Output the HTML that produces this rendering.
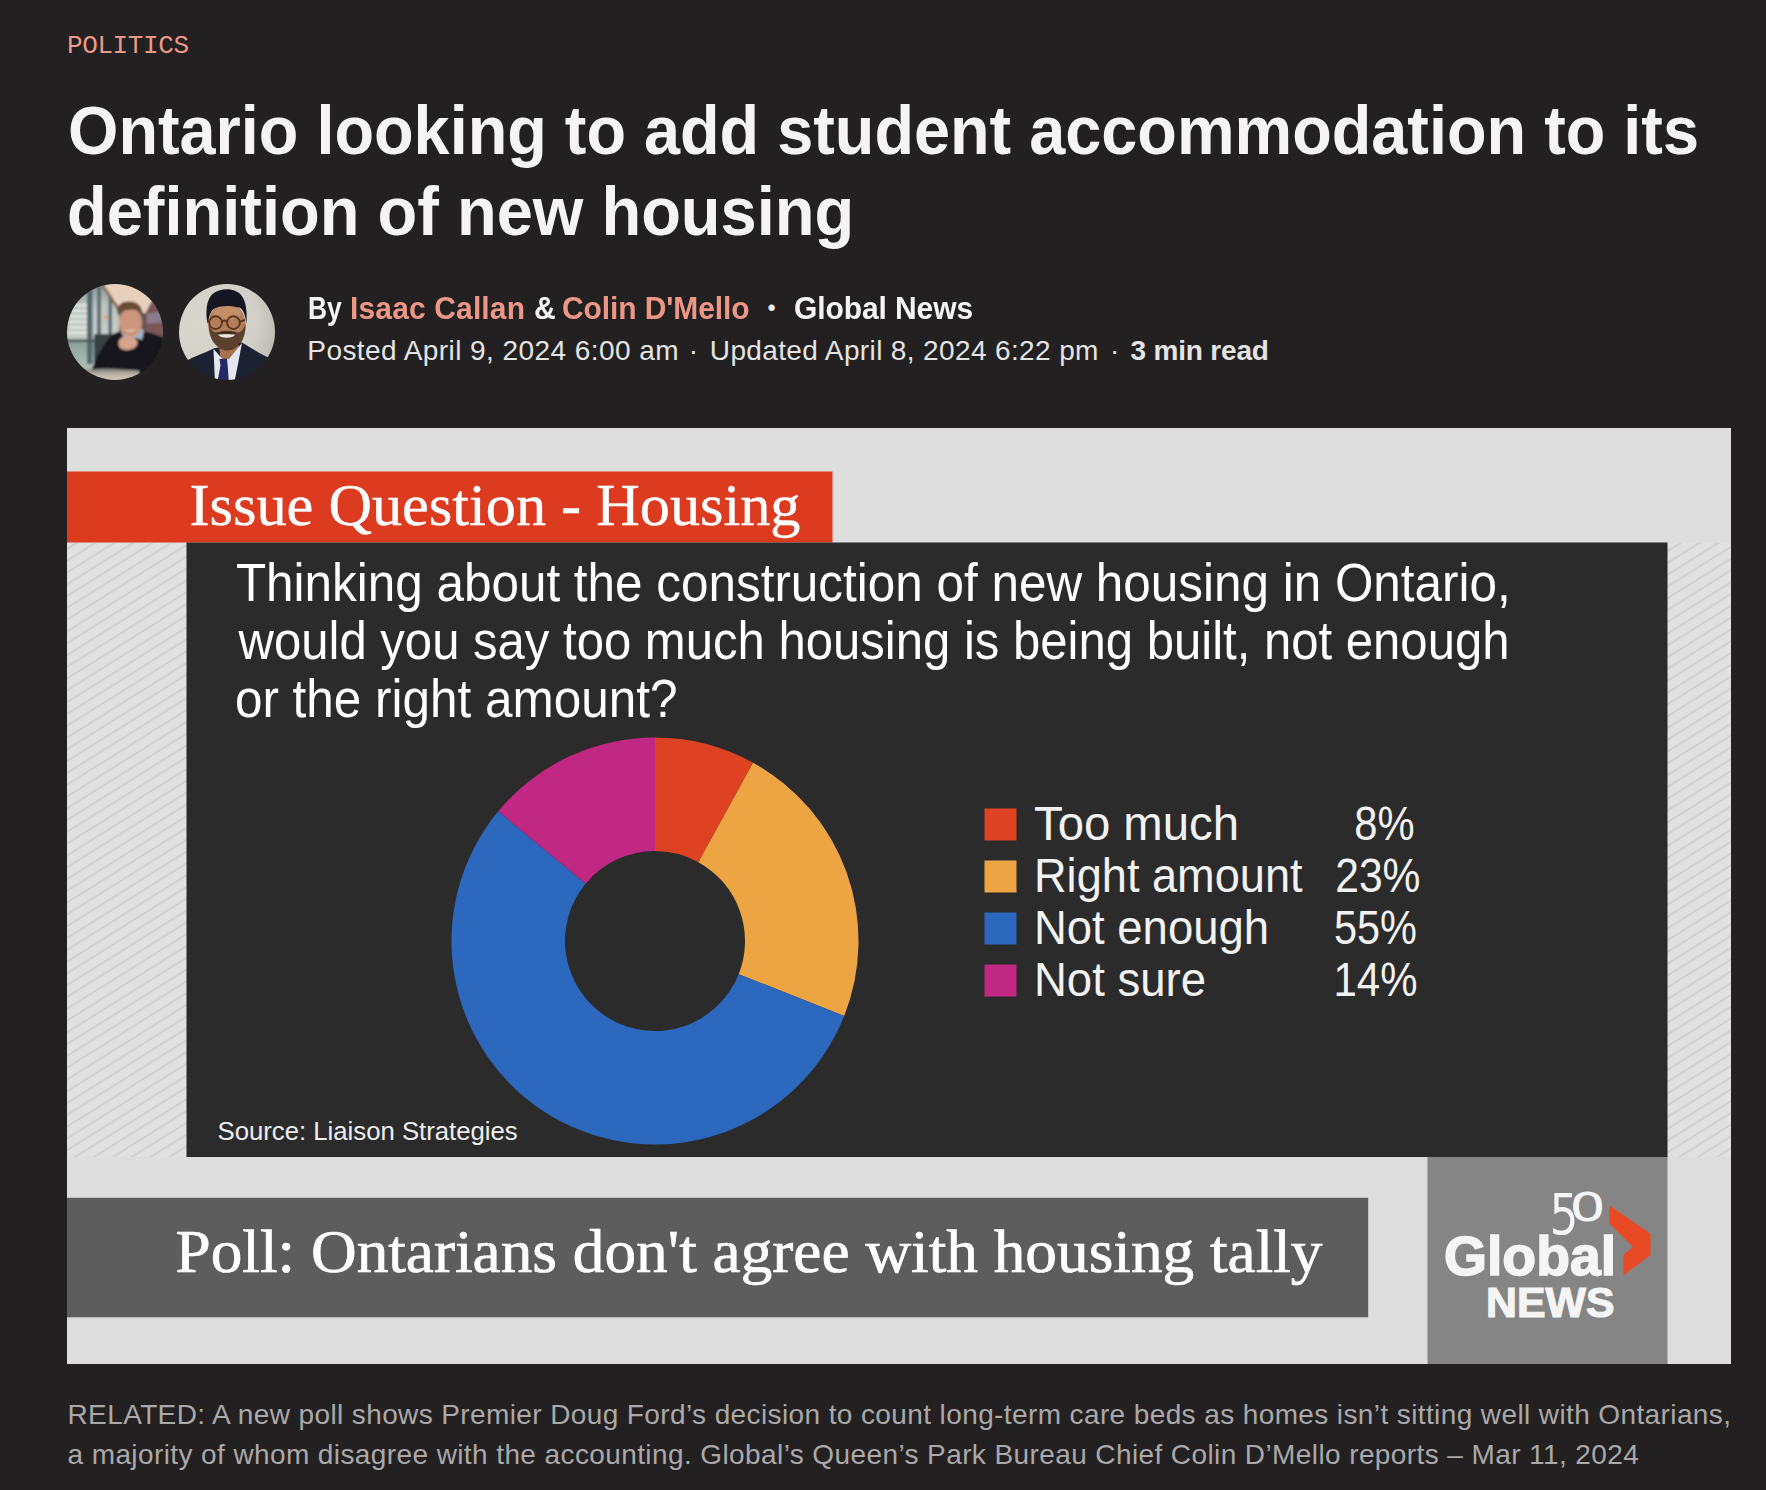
<!DOCTYPE html>
<html lang="en">
<head>
<meta charset="utf-8">
<title>Ontario looking to add student accommodation to its definition of new housing</title>
<style>
html,body{margin:0;padding:0;}
body{width:1766px;height:1490px;background:#222021;overflow:hidden;position:relative;font-family:"Liberation Sans",sans-serif;color:#f4f4f4;}
.abs{position:absolute;white-space:nowrap;line-height:1;}
#cat{left:67px;top:33px;font-family:"Liberation Mono",monospace;font-size:26px;color:#ec9886;letter-spacing:-0.4px;}
h1{margin:0;font-weight:bold;font-size:68px;}
#t1{left:68.3px;top:96px;transform:scaleX(0.953);transform-origin:0 0;}
#t2{left:67.3px;top:177px;transform:scaleX(0.956);transform-origin:0 0;}
#av1,#av2{position:absolute;top:284px;width:96px;height:96px;}
#av1{left:67px;}#av2{left:179px;}
#by{position:absolute;left:0;top:292px;font-size:32px;font-weight:bold;}
#by .abs{transform:scaleX(0.9375);transform-origin:0 0;}
#by a{color:#ec9685;text-decoration:none;}
#dt{position:absolute;left:0;top:337px;font-size:28px;color:#e4e4e4;letter-spacing:0.43px;}
#dt b{color:#e4e4e4;}
#cap1,#cap2{font-size:28px;color:#aaa8a9;letter-spacing:0.4px;}
#cap1{left:67.5px;top:1401px;letter-spacing:0.39px;}
#cap2{left:67.5px;top:1440.5px;}
figure{margin:0;}
#fig{position:absolute;left:67px;top:428px;width:1664px;height:936px;display:block;}
</style>
</head>
<body>
<article>
<div id="cat" class="abs">POLITICS</div>
<h1><span id="t1" class="abs">Ontario looking to add student accommodation to its</span><span id="t2" class="abs">definition of new housing</span></h1>
<svg id="av1" viewBox="0 0 96 96">
<defs><clipPath id="c1"><circle cx="48" cy="48" r="48"/></clipPath>
<filter id="b1" x="-10%" y="-10%" width="120%" height="120%"><feGaussianBlur stdDeviation="0.8"/></filter>
<linearGradient id="w1" x1="0" y1="0" x2="0" y2="1"><stop offset="0" stop-color="#7f8a88"/><stop offset="0.25" stop-color="#bcc5c1"/><stop offset="0.55" stop-color="#c4cbc6"/><stop offset="0.62" stop-color="#8fa39d"/><stop offset="0.8" stop-color="#a9bab3"/><stop offset="1" stop-color="#cdb9a6"/></linearGradient>
<linearGradient id="tb1" x1="0" y1="0" x2="0" y2="1"><stop offset="0" stop-color="#7d7a76"/><stop offset="0.4" stop-color="#bdb5aa"/><stop offset="1" stop-color="#ddd2c4"/></linearGradient>
</defs>
<g clip-path="url(#c1)"><g filter="url(#b1)">
<rect x="-4" y="-4" width="104" height="104" fill="#5b5656"/>
<rect x="-4" y="-4" width="56" height="104" fill="url(#w1)"/>
<g fill="#dfe4df"><rect x="2" y="20" width="18" height="2.6"/><rect x="2" y="25.5" width="18" height="2.6"/><rect x="2" y="31" width="18" height="2.6"/><rect x="2" y="36.5" width="18" height="2.6"/><rect x="2" y="42" width="18" height="2.6"/><rect x="2" y="47.5" width="18" height="2.6"/></g>
<rect x="20" y="6" width="5.5" height="74" fill="#55676b"/>
<rect x="30" y="2" width="4" height="62" fill="#5f7074"/>
<rect x="41.5" y="8" width="3.5" height="52" fill="#5d6b6e"/>
<rect x="-2" y="55.5" width="30" height="2.8" fill="#4a5557"/>
<path d="M35 -2L100 -2L100 22L85 17L78 30L64 18L51 25Z" fill="#e8d0bf"/>
<path d="M33.5 0L36.5 0L52.5 24L50 26Z" fill="#8a6a55"/>
<circle cx="38.8" cy="33.2" r="2.2" fill="#d8a878"/>
<path d="M78 30L85 17L100 22L100 56L78 50Z" fill="#7a5759"/>
<path d="M80 30L96 27L97 38L80 40Z" fill="#8d7a8c"/>
<rect x="27" y="50" width="22" height="36" rx="2" fill="#393f42"/>
<path d="M24 88C28 76 36 60 45 51C49 48 53 47 57 47L76 47C84 49 91 51 100 55L100 92L70 90L40 88Z" fill="#14171a"/>
<path d="M54 48L58 56L62 54L70 54L75 56L77 47L74 44L56 44Z" fill="#aab3c6"/>
<ellipse cx="63.5" cy="38.6" rx="11.6" ry="14.2" fill="#cc957c"/>
<path d="M50.5 31C48.5 22 54 17.5 62 17.6C70 17.5 76 22 75 31C73 27 70 25 63 26C57 25.5 53 27 50.5 31Z" fill="#6b4b34"/>
<path d="M57 44.5C60 47 66 47 69.5 44C67 48.5 60 48.5 57 44.5Z" fill="#f0e2da"/>
<path d="M51.5 60C51 55 55 52.5 60 52.5C66 52.5 70.5 55 70.5 59C70 64 64 66.5 58 66C54 65.5 52 63.5 51.5 60Z" fill="#d7a48d"/>
<path d="M16 100L15 86L40 84.5L72 86.5L72 100Z" fill="url(#tb1)"/>
</g></g></svg>
<svg id="av2" viewBox="0 0 96 96">
<defs><clipPath id="c2"><circle cx="48" cy="48" r="48"/></clipPath>
<filter id="b2" x="-10%" y="-10%" width="120%" height="120%"><feGaussianBlur stdDeviation="0.7"/></filter>
<radialGradient id="g2" cx="0.2" cy="0.4" r="0.9"><stop offset="0" stop-color="#d9d6ce"/><stop offset="0.65" stop-color="#d2cfc8"/><stop offset="1" stop-color="#b4b1aa"/></radialGradient>
</defs>
<g clip-path="url(#c2)"><g filter="url(#b2)">
<rect x="-4" y="-4" width="104" height="104" fill="url(#g2)"/>
<path d="M4 100L7 77C16 72 26 69 34.5 64.5L63 58.5C72 64 80 69 89 73.5L96 100Z" fill="#1e2033"/>
<path d="M40 62L60 60L60 76L42 78Z" fill="#a9734f"/>
<path d="M34.5 65L44 75.5L50 75L63 59L59 80L55 100L36 100Z" fill="#e3e7f1"/>
<path d="M40.5 75L48 74.5L48.6 81L50 100L38 100L41.5 81.5Z" fill="#252a63"/>
<ellipse cx="48" cy="41.5" rx="18.6" ry="23.5" fill="#b47d5a"/>
<ellipse cx="48" cy="29" rx="14" ry="7" fill="#c48e69"/>
<path d="M29.5 40C30 46 31 54 35 59C39 64 44 66.5 48.5 66.5C54 66.5 59 63 62.5 58C66 52 66.5 45 66.8 40C64 46 62 48.5 58 48.5C54 46 42 46 38.5 48.5C34 48.5 31 45 29.5 40Z" fill="#3a271e" opacity="0.72"/>
<path d="M39 50.8C43 50 52 50 56 50.8C54 54.6 41.5 54.6 39 50.8Z" fill="#efe8e2"/><path d="M37 49.6C42 47.6 53 47.6 58.5 49.6C53 48.9 42 48.9 37 49.6Z" fill="#2a1a14"/>
<path d="M28.6 40C26.4 29 27 16 33.5 10C39 5 50 4 56.5 7C64 10 69 19 67.4 40C66.4 31 64.5 26 60.5 23.5C52 21.5 40 21 34.5 25C31 28 30.2 33 28.6 40Z" fill="#191920"/>
<g fill="none" stroke="#5a3420" stroke-width="1.9"><circle cx="36.6" cy="38.6" r="6.4"/><circle cx="54.4" cy="38.6" r="6.4"/><path d="M43 37.4C45 36.2 46.5 36.2 48 37.4M30.2 37.6L28.6 36.6M60.8 37.6L66 36"/></g>
</g></g></svg>
<div id="by"><span id="by0" class="abs" style="left:308px;transform:scaleX(0.825)">By</span> <a id="by1" class="abs" style="left:350.4px;letter-spacing:0.15px">Isaac Callan</a> <span id="by2" class="abs" style="left:533.5px">&amp;</span> <a id="by3" class="abs" style="left:561.9px;letter-spacing:-0.1px">Colin D'Mello</a> <span id="by4" class="abs" style="left:767.8px;top:5px;font-size:22px;transform:none">•</span> <span id="by5" class="abs" style="left:794px;letter-spacing:-0.1px">Global News</span></div>
<div id="dt"><span id="dt0" class="abs" style="left:307.3px">Posted April 9, 2024 6:00 am</span> <span id="dt1" class="abs" style="left:688.8px">·</span> <span id="dt2" class="abs" style="left:709.8px;letter-spacing:0.37px">Updated April 8, 2024 6:22 pm</span> <span id="dt3" class="abs" style="left:1110.1px">·</span> <b id="dt4" class="abs" style="left:1130.4px;letter-spacing:-0.17px">3 min read</b></div>
<figure>
<svg id="fig" viewBox="67 428 1664 936">
<defs>
<pattern id="hatch" width="10" height="10" patternUnits="userSpaceOnUse" patternTransform="rotate(-32)">
<rect width="10" height="10" fill="#e1e0e0"/><rect y="0" width="10" height="2" fill="#d1d0d1"/>
</pattern>
</defs>
<rect x="67" y="428" width="1664" height="936" fill="#dedddd"/>
<rect x="67" y="543" width="120" height="614" fill="url(#hatch)"/>
<rect x="1667" y="543" width="64" height="614" fill="url(#hatch)"/>
<rect x="67" y="471.5" width="765.5" height="71" fill="#dd3b20"/>
<rect x="186.5" y="542.5" width="1481" height="614.5" fill="#2b2b2b"/>
<text id="iq" x="189.5" y="525" font-family="'Liberation Serif',serif" font-size="60" fill="#fff" stroke="#fff" stroke-width="0.4" textLength="611" lengthAdjust="spacingAndGlyphs">Issue Question - Housing</text>
<g font-family="'Liberation Sans',sans-serif" font-size="53" fill="#fff">
<text id="q1" x="235.9" y="600.5" textLength="1274.8" lengthAdjust="spacingAndGlyphs">Thinking about the construction of new housing in Ontario,</text>
<text id="q2" x="238.5" y="658.5" textLength="1271" lengthAdjust="spacingAndGlyphs">would you say too much housing is being built, not enough</text>
<text id="q3" x="234.9" y="717" textLength="442.5" lengthAdjust="spacingAndGlyphs">or the right amount?</text>
</g>
<path d="M655.00 737.50A203.5 203.5 0 0 1 753.04 762.67L698.36 862.13A90.0 90.0 0 0 0 655.00 851.00Z" fill="#de4223"/>
<path d="M753.04 762.67A203.5 203.5 0 0 1 844.21 1015.91L738.68 974.13A90.0 90.0 0 0 0 698.36 862.13Z" fill="#eda543"/>
<path d="M844.21 1015.91A203.5 203.5 0 1 1 498.20 811.28L585.65 883.63A90.0 90.0 0 1 0 738.68 974.13Z" fill="#2c68bd"/>
<path d="M498.20 811.28A203.5 203.5 0 0 1 655.00 737.50L655.00 851.00A90.0 90.0 0 0 0 585.65 883.63Z" fill="#c02884"/>
<g>
<rect x="984.5" y="808.5" width="32" height="32" fill="#de4223"/>
<rect x="984.5" y="860.5" width="32" height="32" fill="#eda543"/>
<rect x="984.5" y="912.5" width="32" height="32" fill="#2c68bd"/>
<rect x="984.5" y="964.5" width="32" height="32" fill="#c02884"/>
</g>
<g font-family="'Liberation Sans',sans-serif" font-size="48" fill="#f2f2f2" lengthAdjust="spacingAndGlyphs">
<text id="l1" x="1034" y="840" textLength="205" lengthAdjust="spacingAndGlyphs">Too much</text><text id="p1" x="1354.3" y="840" textLength="60.3" lengthAdjust="spacingAndGlyphs">8%</text>
<text id="l2" x="1034" y="892" textLength="268.6" lengthAdjust="spacingAndGlyphs">Right amount</text><text id="p2" x="1335.2" y="892" textLength="85.3" lengthAdjust="spacingAndGlyphs">23%</text>
<text id="l3" x="1034" y="944" textLength="235" lengthAdjust="spacingAndGlyphs">Not enough</text><text id="p3" x="1334" y="944" textLength="83" lengthAdjust="spacingAndGlyphs">55%</text>
<text id="l4" x="1034" y="996" textLength="172" lengthAdjust="spacingAndGlyphs">Not sure</text><text id="p4" x="1333.5" y="996" textLength="84" lengthAdjust="spacingAndGlyphs">14%</text>
</g>
<text id="src" x="217.5" y="1139.5" textLength="300.2" lengthAdjust="spacingAndGlyphs" font-family="'Liberation Sans',sans-serif" font-size="26" fill="#eee">Source: Liaison Strategies</text>
<rect x="67" y="1197.8" width="1301.2" height="119.5" fill="#5d5d5d"/>
<text id="poll" x="175.5" y="1271.5" font-family="'Liberation Serif',serif" font-size="62" fill="#fff" stroke="#fff" stroke-width="0.7" textLength="1147" lengthAdjust="spacingAndGlyphs">Poll: Ontarians don't agree with housing tally</text>
<rect x="1427.5" y="1157" width="240" height="207" fill="#858585"/>
<g font-family="'Liberation Sans',sans-serif" font-weight="bold" fill="#f5f5f5" stroke="#f5f5f5">
<text id="lg" x="1444" y="1274.5" font-size="56" stroke-width="1.6" textLength="172" lengthAdjust="spacingAndGlyphs">Global</text>
<text id="ln" x="1486" y="1317" font-size="43" stroke-width="1.2" textLength="128.5" lengthAdjust="spacingAndGlyphs">NEWS</text>
</g>
<g id="l50" font-family="'DejaVu Sans Light','DejaVu Sans',sans-serif" font-weight="200" fill="#f5f5f5" stroke="#f5f5f5">
<text x="1549.5" y="1233" font-size="54" stroke-width="2.2" textLength="29" lengthAdjust="spacingAndGlyphs">5</text>
<text transform="translate(1569.5,1220) scale(1.5,1)" font-size="38" stroke-width="1.9">0</text>
</g>
<path d="M1609.5 1205.5L1650.5 1233.7L1650.5 1255L1623.5 1275.3L1623.5 1255L1633 1247L1609.5 1223.4Z" fill="#e84a25"/>
</svg>
<figcaption>
<div id="cap1" class="abs">RELATED: A new poll shows Premier Doug Ford’s decision to count long-term care beds as homes isn’t sitting well with Ontarians,</div>
<div id="cap2" class="abs">a majority of whom disagree with the accounting. Global’s Queen’s Park Bureau Chief Colin D’Mello reports – Mar 11, 2024</div>
</figcaption>
</figure>
</article>
</body>
</html>
